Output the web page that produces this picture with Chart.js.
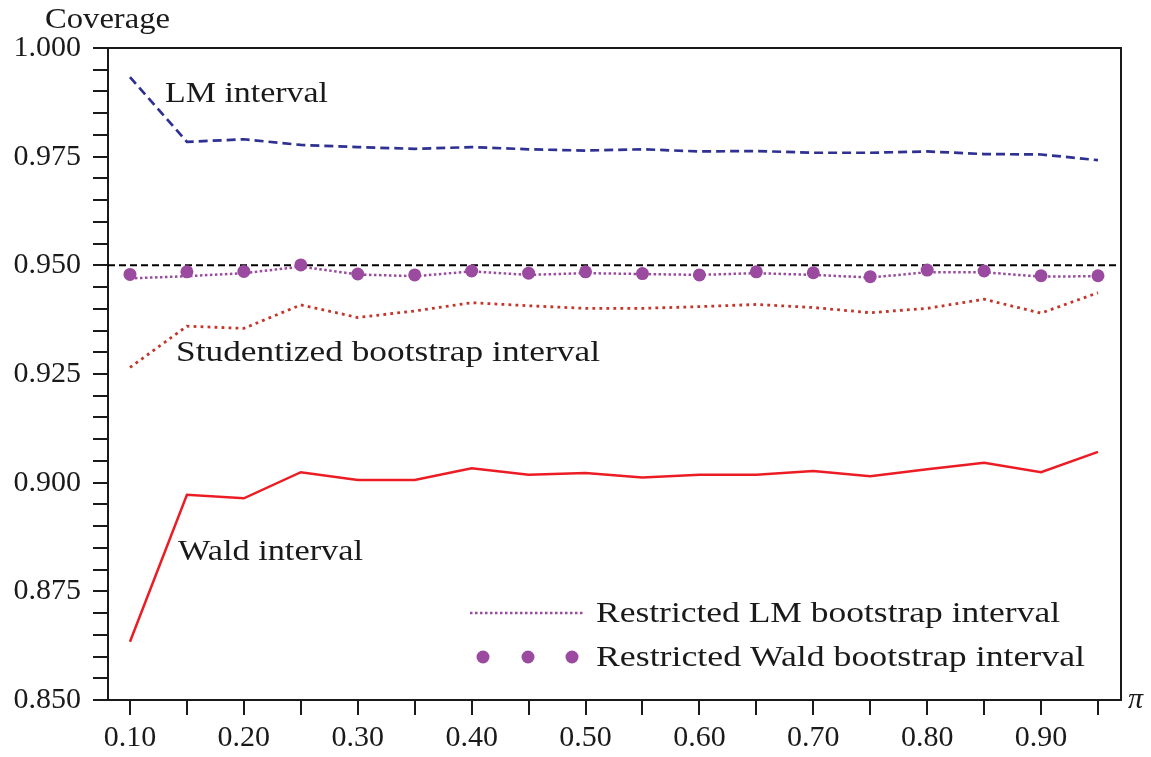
<!DOCTYPE html>
<html><head><meta charset="utf-8">
<script src="https://cdn.jsdelivr.net/npm/chart.js@4.4.1/dist/chart.umd.min.js"></script>
<style>html,body{margin:0;padding:0;background:#fff;} canvas{display:block;}</style>
</head><body>
<canvas id="c" width="1151" height="757"></canvas>
<script>
// ---- data ----
const piValues = [0.10,0.15,0.20,0.25,0.30,0.35,0.40,0.45,0.50,0.55,0.60,0.65,0.70,0.75,0.80,0.85,0.90,0.95];
const lmInterval = [0.9933,0.9784,0.9790,0.9777,0.9772,0.9768,0.9772,0.9767,0.9764,0.9767,0.9762,0.9763,0.9759,0.9759,0.9762,0.9756,0.9755,0.9742];
const waldInterval = [0.8634,0.8972,0.8964,0.9024,0.9006,0.9006,0.9033,0.9018,0.9022,0.9012,0.9018,0.9018,0.9027,0.9015,0.9031,0.9046,0.9024,0.9071];
const studentizedBootstrap = [0.9265,0.9360,0.9355,0.9409,0.9380,0.9395,0.9414,0.9407,0.9401,0.9401,0.9405,0.9410,0.9403,0.9391,0.9401,0.9422,0.9390,0.9437];
const restrictedLMBootstrap = [0.9470,0.9475,0.9482,0.9497,0.9479,0.9475,0.9486,0.9478,0.9482,0.9480,0.9478,0.9482,0.9478,0.9472,0.9484,0.9484,0.9474,0.9475];
const restrictedWaldBootstrap = [0.9479,0.9485,0.9486,0.9501,0.9480,0.9478,0.9487,0.9482,0.9485,0.9481,0.9478,0.9485,0.9483,0.9474,0.9489,0.9487,0.9476,0.9476];
const nominalLevel = 0.95;

const xTickValues = [0.10,0.15,0.20,0.25,0.30,0.35,0.40,0.45,0.50,0.55,0.60,0.65,0.70,0.75,0.80,0.85,0.90,0.95];
const xTickLabels = ['0.10','','0.20','','0.30','','0.40','','0.50','','0.60','','0.70','','0.80','','0.90',''];
const yMajorValues = [0.850,0.875,0.900,0.925,0.950,0.975,1.000];
const yMajorLabels = ['0.850','0.875','0.900','0.925','0.950','0.975','1.000'];
const yMinorStep = 0.005;
const xMin = 0.0807, xMax = 0.9702, yMin = 0.85, yMax = 1.0;

const seriesNames = ['LM interval','Wald interval','Studentized bootstrap interval','Restricted LM bootstrap interval','Restricted Wald bootstrap interval'];
const yAxisTitle = 'Coverage';
const xAxisTitle = '\u03C0';

function pts(ys){ return piValues.map((x,i)=>({x:x,y:ys[i]})); }

const SERIF = '"Liberation Serif", "DejaVu Serif", serif';
const INK = '#1a1a1a';
const PURPLE = '#9a4a9f';

const yTicks = [];
for (let v = yMin; v <= yMax + 1e-9; v += yMinorStep) yTicks.push(Math.round(v*1000)/1000);

// draw text stretched horizontally to a target width (mimics the wider original typeface)
function wideText(c, txt, x, y, w){
  const m = c.measureText(txt).width;
  c.save();
  c.translate(x, y);
  c.scale(w / m, 1);
  c.fillText(txt, 0, 0);
  c.restore();
}

const decor = {
  id: 'decor',
  afterDraw(chart){
    const c = chart.ctx, a = chart.chartArea;
    c.save();
    c.strokeStyle = INK; c.lineWidth = 2;
    c.beginPath();
    c.moveTo(a.left, a.top); c.lineTo(a.right, a.top); c.lineTo(a.right, a.bottom);
    c.stroke();
    c.fillStyle = INK;
    c.font = '30px ' + SERIF;
    c.textBaseline = 'alphabetic';
    c.textAlign = 'left';
    wideText(c, yAxisTitle, 45, 28, 125);
    c.font = 'italic 30px ' + SERIF;
    c.fillText(xAxisTitle, 1128, 708);
    c.font = '30px ' + SERIF;
    wideText(c, seriesNames[0], 165, 102, 163);
    wideText(c, seriesNames[2], 176, 361, 424);
    wideText(c, seriesNames[1], 178, 560, 185);
    // legend
    c.strokeStyle = PURPLE; c.lineWidth = 2.5; c.setLineDash([2.5,2.5]);
    c.beginPath(); c.moveTo(470, 613); c.lineTo(583, 613); c.stroke();
    c.setLineDash([]);
    c.fillStyle = PURPLE;
    [483, 528, 572].forEach(x => { c.beginPath(); c.arc(x, 657, 6.5, 0, Math.PI*2); c.fill(); });
    c.fillStyle = INK;
    wideText(c, seriesNames[3], 596, 622, 464);
    wideText(c, seriesNames[4], 596, 666, 489);
    c.restore();
  }
};

new Chart(document.getElementById('c'), {
  type: 'line',
  data: {
    datasets: [
      { label: seriesNames[4], data: pts(restrictedWaldBootstrap), showLine: false, pointRadius: 6.5, pointBackgroundColor: PURPLE, pointBorderWidth: 0, order: 0 },
      { label: 'nominal', data: [{x:xMin,y:nominalLevel},{x:xMax,y:nominalLevel}], borderColor: '#000', borderWidth: 2, borderDash: [7,4], pointRadius: 0, order: 1 },
      { label: seriesNames[3], data: pts(restrictedLMBootstrap), borderColor: PURPLE, borderWidth: 2.5, borderDash: [2.5,2.5], pointRadius: 0, order: 2 },
      { label: seriesNames[2], data: pts(studentizedBootstrap), borderColor: '#c4352a', borderWidth: 2.8, borderDash: [2.8,4.2], pointRadius: 0, order: 3 },
      { label: seriesNames[1], data: pts(waldInterval), borderColor: '#ec1c24', borderWidth: 2.5, pointRadius: 0, order: 4 },
      { label: seriesNames[0], data: pts(lmInterval), borderColor: '#2e3192', borderWidth: 2.7, borderDash: [9,5], pointRadius: 0, order: 5 }
    ]
  },
  options: {
    responsive: false,
    animation: false,
    devicePixelRatio: 1,
    layout: { padding: { top: 48, right: 30, left: 0, bottom: 0 } },
    plugins: { legend: { display: false }, tooltip: { enabled: false } },
    elements: { line: { tension: 0, borderCapStyle: 'butt' } },
    scales: {
      x: {
        type: 'linear', min: xMin, max: xMax,
        afterFit: s => { s.height = 57; },
        afterBuildTicks: s => { s.ticks = xTickValues.map(v => ({ value: v })); },
        grid: { drawOnChartArea: false, drawTicks: true, tickLength: 15, color: INK, lineWidth: 2 },
        border: { display: true, color: INK, width: 2 },
        ticks: { autoSkip: false, maxRotation: 0, padding: 5, color: INK, font: { family: SERIF, size: 30 },
          callback: (v, i) => xTickLabels[i] }
      },
      y: {
        type: 'linear', min: yMin, max: yMax,
        afterFit: s => { s.width = 108; },
        afterBuildTicks: s => { s.ticks = yTicks.map(v => ({ value: v })); },
        grid: { drawOnChartArea: false, drawTicks: true, tickLength: 15, color: INK, lineWidth: 2 },
        border: { display: true, color: INK, width: 2 },
        ticks: { autoSkip: false, padding: 12, color: INK, font: { family: SERIF, size: 30 },
          callback: (v) => { const k = yMajorValues.findIndex(m => Math.abs(m - v) < 1e-6); return k >= 0 ? yMajorLabels[k] : ''; } }
      }
    }
  },
  plugins: [decor]
});
</script>
</body></html>
